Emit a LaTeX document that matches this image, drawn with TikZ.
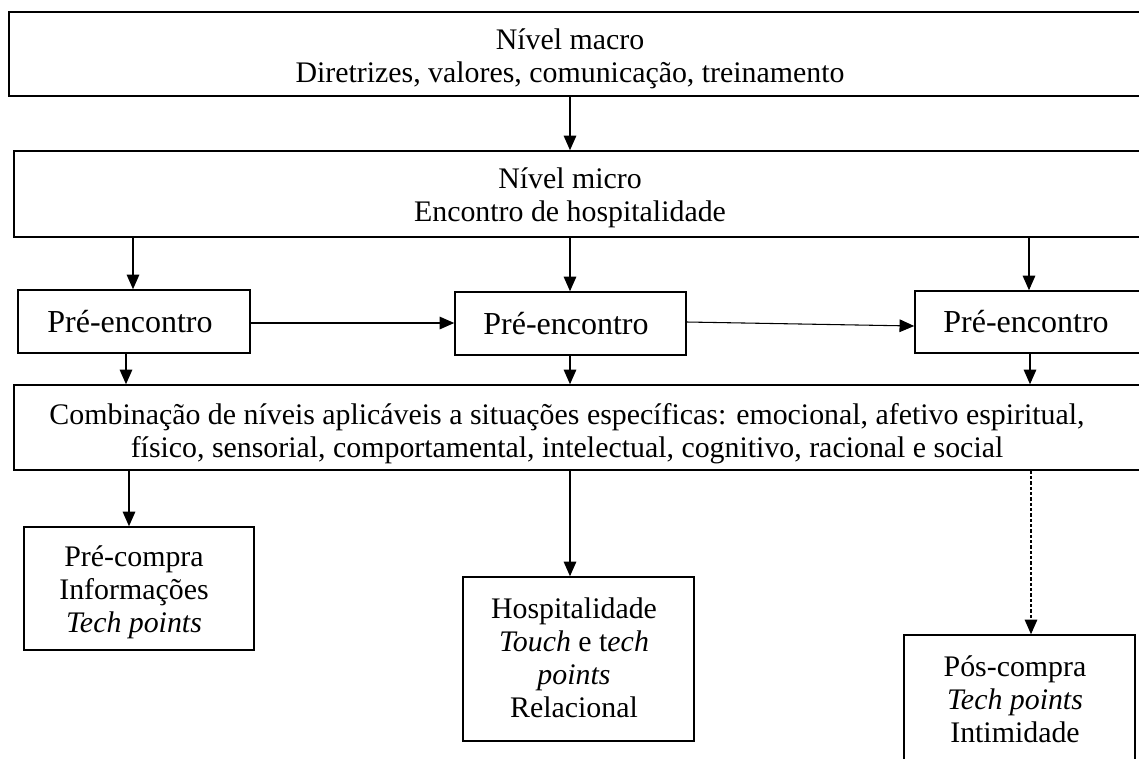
\documentclass[tikz,border=0pt]{standalone}
\usepackage{fontspec}
\setmainfont{Liberation Serif}
\usetikzlibrary{arrows.meta,fit}
\begin{document}
\begin{tikzpicture}[x=0.75pt,y=-0.75pt,
  box/.style={draw, line width=1.2pt, inner sep=0pt},
  txt/.style={align=center, font=\fontsize{22.4}{24.8}\selectfont, inner sep=0pt},
  big/.style={font=\fontsize{24}{28}\selectfont},
  link/.style={-{Triangle[length=11pt,width=9.5pt]}, line width=0.8pt},
  dashlink/.style={link, dash pattern=on 2.5pt off 1.5pt}]
\useasboundingbox (0,0) rectangle (1139,758);
\clip (0,0) rectangle (1139,758);

% macro and micro levels
\node[box, fit={(9,12) (1170,96)}] (macro) {};
\node[txt] (macrotxt) at (570,59) {Nível macro\\Diretrizes, valores, comunicação, treinamento};
\node[box, fit={(14,151) (1170,237)}] (micro) {};
\node[txt] (microtxt) at (570,198) {Nível micro\\Encontro de hospitalidade};

% encounter stages
\node[box, fit={(18,290) (250,353)}] (pre1) {};
\node[txt, big] (pre1txt) at (130,322) {Pré-encontro};
\node[box, fit={(455,292) (686,355)}] (pre2) {};
\node[txt, big] (pre2txt) at (566,324) {Pré-encontro};
\node[box, fit={(915,291) (1170,353)}] (pre3) {};
\node[txt, big] (pre3txt) at (1026,322) {Pré-encontro};

% combination of levels
\node[box, fit={(14,385) (1170,470)}] (combo) {};
\node[txt] (combotxt) at (567,434) {Combinação de níveis aplicáveis a situações específicas: emocional, afetivo espiritual,\\físico, sensorial, comportamental, intelectual, cognitivo, racional e social};

% purchase phases
\node[box, fit={(24,527) (254,650)}] (precompra) {};
\node[txt] (precompratxt) at (134,592) {Pré-compra\\Informações\\\textit{Tech points}};
\node[box, fit={(463,577) (694,741)}] (hosp) {};
\node[txt] (hosptxt) at (574,658) {Hospitalidade\\\textit{Touch} e t\textit{ech}\\\textit{points}\\Relacional};
\node[box, fit={(904,635) (1135,800)}] (pos) {};
\node[txt] (postxt) at (1015,699) {Pós-compra\\\textit{Tech points}\\Intimidade};

% connectors
\draw[link] (macro.south -| 570,0) -- (micro.north -| 570,0);
\draw[link] (micro.south -| 133,0) -- (pre1.north -| 133,0);
\draw[link] (micro.south -| 570,0) -- (pre2.north -| 570,0);
\draw[link] (micro.south -| 1029,0) -- (pre3.north -| 1029,0);
\draw[link] (pre1.east |- 0,323) -- (pre2.west |- 0,323);
\draw[link] (pre2.east |- 0,322) -- (pre3.west |- 0,326);
\draw[link] (pre1.south -| 126,0) -- (combo.north -| 126,0);
\draw[link] (pre2.south -| 570,0) -- (combo.north -| 570,0);
\draw[link] (pre3.south -| 1030,0) -- (combo.north -| 1030,0);
\draw[link] (combo.south -| 129,0) -- (precompra.north -| 129,0);
\draw[link] (combo.south -| 570,0) -- (hosp.north -| 570,0);
\draw[dashlink] (combo.south -| 1031,0) -- (pos.north -| 1031,0);
\end{tikzpicture}
\end{document}
